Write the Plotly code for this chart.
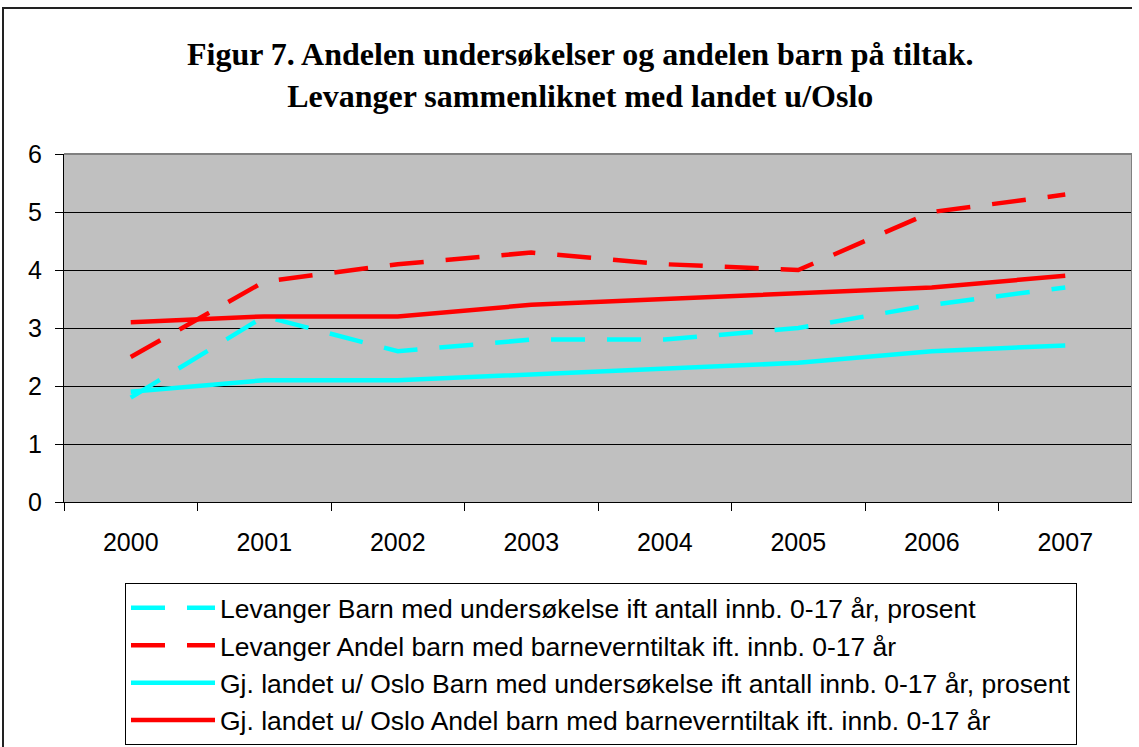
import plotly.graph_objects as go

# data
years = ["2000", "2001", "2002", "2003", "2004", "2005", "2006", "2007"]
lev_undersokelse = [1.8, 3.2, 2.6, 2.8, 2.8, 3.0, 3.4, 3.7]
lev_tiltak = [2.5, 3.8, 4.1, 4.3, 4.1, 4.0, 5.0, 5.3]
land_undersokelse = [1.9, 2.1, 2.1, 2.2, 2.3, 2.4, 2.6, 2.7]
land_tiltak = [3.1, 3.2, 3.2, 3.4, 3.5, 3.6, 3.7, 3.9]

names = [
    "Levanger Barn med undersøkelse ift antall innb. 0-17 år, prosent",
    "Levanger Andel barn med barneverntiltak ift. innb. 0-17 år",
    "Gj. landet u/ Oslo Barn med undersøkelse ift antall innb. 0-17 år, prosent",
    "Gj. landet u/ Oslo Andel barn med barneverntiltak ift. innb. 0-17 år",
]

CYAN = "#00FFFF"
RED = "#FF0000"
DASH = "34px,22px"

# body margin is removed in the page (post_script), so pixels map 1:1.
# figure stops at the plot's right edge (r=0 keeps the legend from pushing margins)
W, H = 1132, 747
L, R, T, B = 64, 0, 154, 245
pw, ph = W - L - R, H - T - B


def px(x):  # screen pixel -> paper
    return (x - L) / pw


def py(y):
    return (H - B - y) / ph


fig = go.Figure()
series = [
    (lev_undersokelse, CYAN, DASH),
    (lev_tiltak, RED, DASH),
    (land_undersokelse, CYAN, "solid"),
    (land_tiltak, RED, "solid"),
]
for i, (vals, col, dash) in enumerate(series):
    fig.add_trace(go.Scatter(x=years, y=vals, mode="lines", name=names[i],
                             legendgroup="g" + str(i),
                             line=dict(color=col, width=4.5, dash=dash)))

fig.update_layout(
    width=W, height=H, autosize=False,
    margin=dict(l=L, r=R, t=T, b=B),
    paper_bgcolor="white", plot_bgcolor="#C0C0C0",
    font=dict(family="Liberation Sans, Arial", size=25, color="black"),
    showlegend=True,
    legend=dict(x=px(125), y=py(583), xanchor="left", yanchor="top",
                bordercolor="black", borderwidth=1, bgcolor="white",
                font=dict(size=26.5), itemwidth=84,
                traceorder="grouped", tracegroupgap=0),
    annotations=[dict(
        text="<b>Figur 7. Andelen undersøkelser og andelen barn på tiltak.<br>"
             "Levanger sammenliknet med landet u/Oslo</b>",
        x=px(580), y=py(75), xref="paper", yref="paper",
        xanchor="center", yanchor="middle", showarrow=False,
        font=dict(family="Liberation Serif, Times New Roman", size=32, color="black"))],
    shapes=[
        # outer chart border
        dict(type="rect", xref="paper", yref="paper",
             x0=px(3), x1=px(1160), y0=py(8), y1=py(770),
             line=dict(color="#222", width=2), layer="below"),
        # plot area border top / right
        dict(type="line", xref="paper", yref="paper", x0=0, x1=1, y0=1, y1=1,
             line=dict(color="#808080", width=2)),
        dict(type="line", xref="paper", yref="paper", x0=1, x1=1, y0=0, y1=1,
             line=dict(color="#808080", width=2)),
    ],
)

fig.update_xaxes(type="category", range=[-0.5, 7.5], tickson="boundaries",
                 ticks="outside", ticklen=8, tickcolor="black",
                 showline=True, linecolor="black", linewidth=1,
                 showgrid=False, ticklabelstandoff=18)
fig.update_yaxes(range=[0, 6], dtick=1, ticks="outside", ticklen=8, tickcolor="black",
                 showline=True, linecolor="black", linewidth=1,
                 showgrid=True, gridcolor="black", gridwidth=1, zeroline=False,
                 ticklabelstandoff=8)

fig.write_html("out.html", config={"displayModeBar": False},
               post_script="document.body.style.margin='0';document.body.style.overflow='hidden';")
